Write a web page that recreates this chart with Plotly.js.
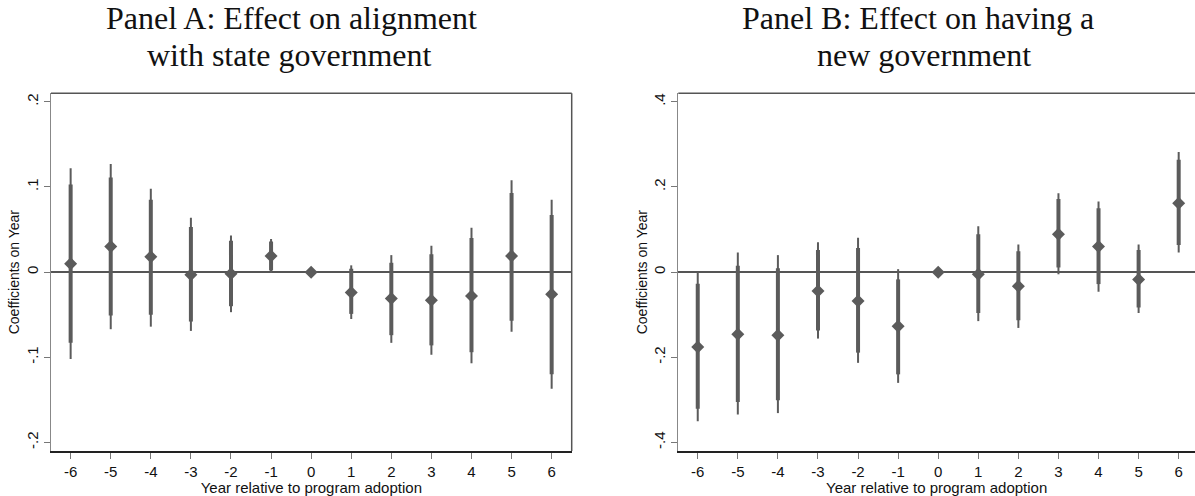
<!DOCTYPE html>
<html>
<head>
<meta charset="utf-8">
<script src="https://cdn.plot.ly/plotly-3.0.1.min.js"></script>
<style>html,body{margin:0;padding:0;background:#fff;}#chart{width:1195px;height:496px;}</style>
</head>
<body>
<div id="chart"></div>
<script>
const years = [-6,-5,-4,-3,-2,-1,0,1,2,3,4,5,6];
const xTickLabels = ['-6','-5','-4','-3','-2','-1','0','1','2','3','4','5','6'];

// Panel A: alignment with state government
const coefA    = [0.010, 0.030, 0.018, -0.003, -0.002, 0.019, 0.000, -0.024, -0.031, -0.033, -0.028, 0.019, -0.026];
const hiThickA = [0.103, 0.111, 0.085, 0.053, 0.037, 0.036, 0.000, 0.004, 0.011, 0.021, 0.040, 0.093, 0.067];
const loThickA = [-0.083, -0.051, -0.050, -0.058, -0.040, 0.002, 0.000, -0.049, -0.074, -0.086, -0.094, -0.057, -0.120];
const hiThinA  = [0.122, 0.127, 0.098, 0.064, 0.043, 0.039, 0.000, 0.008, 0.020, 0.031, 0.052, 0.108, 0.085];
const loThinA  = [-0.102, -0.067, -0.064, -0.069, -0.047, -0.001, 0.000, -0.055, -0.083, -0.097, -0.107, -0.070, -0.137];
const yTickValsA = [-0.2, -0.1, 0, 0.1, 0.2];
const yTickTextA = ['-.2', '-.1', '0', '.1', '.2'];

// Panel B: having a new government
const coefB    = [-0.176, -0.146, -0.148, -0.044, -0.068, -0.127, 0.000, -0.005, -0.033, 0.089, 0.060, -0.017, 0.162];
const hiThickB = [-0.027, 0.015, 0.009, 0.052, 0.057, -0.017, 0.000, 0.089, 0.049, 0.172, 0.150, 0.052, 0.264];
const loThickB = [-0.321, -0.305, -0.301, -0.137, -0.189, -0.240, 0.000, -0.096, -0.113, 0.011, -0.028, -0.083, 0.064];
const hiThinB  = [0.000, 0.046, 0.040, 0.070, 0.081, 0.007, 0.000, 0.108, 0.065, 0.185, 0.166, 0.065, 0.282];
const loThinB  = [-0.350, -0.334, -0.331, -0.156, -0.213, -0.260, 0.000, -0.115, -0.131, -0.005, -0.046, -0.096, 0.046];
const yTickValsB = [-0.4, -0.2, 0, 0.2, 0.4];
const yTickTextB = ['-.4', '-.2', '0', '.2', '.4'];

const titleA = ['Panel A: Effect on alignment', 'with state government'];
const titleB = ['Panel B: Effect on having a', 'new government'];
const xTitle = 'Year relative to program adoption';
const yTitle = 'Coefficients on Year';

const GRAY = '#5b5b5b';
const diff = (a, b) => a.map((v, i) => v - b[i]);

function panelTraces(coef, hiThick, loThick, hiThin, loThin, xa, ya) {
  return [
    {x: years, y: coef, xaxis: xa, yaxis: ya, type: 'scatter', mode: 'markers',
     marker: {size: 0.1, color: 'rgba(0,0,0,0)'}, hoverinfo: 'skip', showlegend: false,
     error_y: {type: 'data', symmetric: false, array: diff(hiThin, coef), arrayminus: diff(coef, loThin),
               color: GRAY, thickness: 2, width: 0}},
    {x: years, y: coef, xaxis: xa, yaxis: ya, type: 'scatter', mode: 'markers',
     marker: {size: 0.1, color: 'rgba(0,0,0,0)'}, hoverinfo: 'skip', showlegend: false,
     error_y: {type: 'data', symmetric: false, array: diff(hiThick, coef), arrayminus: diff(coef, loThick),
               color: GRAY, thickness: 4, width: 0}},
    {x: years, y: coef, xaxis: xa, yaxis: ya, type: 'scatter', mode: 'markers',
     marker: {symbol: 'diamond', size: 10, color: GRAY, line: {width: 0}}, showlegend: false}
  ];
}

const data = [
  ...panelTraces(coefA, hiThickA, loThickA, hiThinA, loThinA, 'x', 'y'),
  ...panelTraces(coefB, hiThickB, loThickB, hiThinB, loThinB, 'x2', 'y2')
];

const W = 1195, H = 496;
const yDom = [1 - 451 / H, 1 - 93.3 / H];
const tickFont = {family: 'Liberation Sans, Arial, sans-serif', size: 15, color: '#111'};
const yTitleFont = {family: 'Liberation Sans, Arial, sans-serif', size: 14, color: '#111'};

function xAxis(domain, range, anchor) {
  return {domain: domain, range: range, anchor: anchor, tickmode: 'array', tickvals: years, ticktext: xTickLabels,
    ticks: 'outside', ticklen: 6, tickwidth: 1, tickcolor: '#777', showgrid: false, zeroline: false,
    showline: true, linecolor: '#222', linewidth: 2, tickfont: tickFont,
    title: {text: xTitle, font: tickFont, standoff: 0}, fixedrange: true};
}
function yAxis(range, vals, text, anchor) {
  return {domain: yDom, range: range, anchor: anchor, tickmode: 'array', tickvals: vals, ticktext: text,
    tickangle: -90, ticks: 'outside', ticklen: 6, tickwidth: 1, tickcolor: '#777', showgrid: false,
    zeroline: true, zerolinecolor: '#555', zerolinewidth: 1.5,
    showline: true, linecolor: '#888', linewidth: 1.5, tickfont: tickFont,
    title: {text: yTitle, font: yTitleFont, standoff: 0}, fixedrange: true};
}

const titleFont = {family: 'Liberation Serif, Times New Roman, serif', size: 32, color: '#111'};
function titleAnn(text, cx, top) {
  return {text: text, xref: 'paper', yref: 'paper', x: cx / W, y: 1 - top / H, xanchor: 'center', yanchor: 'top',
          showarrow: false, font: titleFont};
}

const layout = {
  width: W, height: H, margin: {l: 0, r: 0, t: 0, b: 0},
  paper_bgcolor: '#fff', plot_bgcolor: '#fff', showlegend: false,
  xaxis: xAxis([51 / W, 571.7 / W], [-6.49, 6.5], 'y'),
  yaxis: yAxis([-0.21, 0.21], yTickValsA, yTickTextA, 'x'),
  xaxis2: xAxis([678.3 / W, 1], [-6.485, 6.407], 'y2'),
  yaxis2: yAxis([-0.42, 0.42], yTickValsB, yTickTextB, 'x2'),
  shapes: [
    {type: 'line', xref: 'x domain', yref: 'y domain', x0: 0, x1: 1, y0: 1, y1: 1, line: {color: '#555', width: 1.5}},
    {type: 'line', xref: 'x domain', yref: 'y domain', x0: 1, x1: 1, y0: 0, y1: 1, line: {color: '#555', width: 1.5}},
    {type: 'line', xref: 'x2 domain', yref: 'y2 domain', x0: 0, x1: 1, y0: 1, y1: 1, line: {color: '#555', width: 1.5}}
  ],
  annotations: [
    titleAnn(titleA[0], 291, -2),
    titleAnn(titleA[1], 289, 35),
    titleAnn(titleB[0], 918, -2),
    titleAnn(titleB[1], 924, 35)
  ]
};

Plotly.newPlot('chart', data, layout, {staticPlot: true, displayModeBar: false});
</script>
</body>
</html>
